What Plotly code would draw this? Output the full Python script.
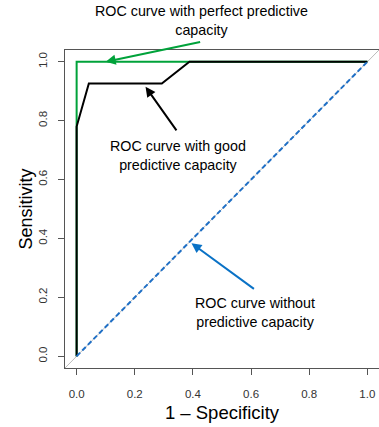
import plotly.graph_objects as go

# ROC curves
perfect_fpr = [0.0, 0.0, 1.0]
perfect_tpr = [0.0, 1.0, 1.0]
good_fpr = [0.0, 0.0, 0.042, 0.293, 0.388, 1.0]
good_tpr = [0.0, 0.78, 0.926, 0.926, 1.0, 1.0]
random_fpr = [0.0, 1.0]
random_tpr = [0.0, 1.0]
ref_line = [-0.04, 1.04]

tick_vals = [0.0, 0.2, 0.4, 0.6, 0.8, 1.0]
tick_text = ["0.0", "0.2", "0.4", "0.6", "0.8", "1.0"]

GREEN = "#00A23A"
BLUE = "#1F6FC5"
BLUE_ARROW = "#0A72C6"
AX = "#555555"
FONT = "Liberation Sans, Arial, sans-serif"

fig = go.Figure()
fig.add_trace(go.Scatter(x=ref_line, y=ref_line, mode="lines",
                         line=dict(color="#BBBBBB", width=1), hoverinfo="skip"))
fig.add_trace(go.Scatter(x=perfect_fpr, y=perfect_tpr, mode="lines",
                         line=dict(color=GREEN, width=2)))
fig.add_trace(go.Scatter(x=good_fpr, y=good_tpr, mode="lines",
                         line=dict(color="black", width=2)))
fig.add_trace(go.Scatter(x=random_fpr, y=random_tpr, mode="lines",
                         line=dict(color=BLUE, width=2, dash="5px,3px")))

def arrow(x, y, ax, ay, color):
    fig.add_annotation(x=x, y=y, ax=ax, ay=ay, xref="x", yref="y", axref="x", ayref="y",
                       text="", showarrow=True, arrowhead=2, arrowsize=1,
                       arrowwidth=2, arrowcolor=color)

def label(x, y, text, ref="x"):
    fig.add_annotation(x=x, y=y, xref="x", yref="y" if ref == "x" else "paper",
                       text=text, showarrow=False,
                       font=dict(family=FONT, size=14.3, color="black"),
                       align="center", xanchor="center", yanchor="middle")

arrow(0.10, 1.0, 0.43, 1.068, GREEN)
# top label sits above the plotting area -> paper y (plot area spans 368..50 px)
label(0.43, (368 - 20.5) / 318, "ROC curve with perfect predictive<br>capacity", ref="paper")
arrow(0.237, 0.915, 0.347, 0.762, "black")
label(0.348, 0.682, "ROC curve with good<br>predictive capacity")
arrow(0.395, 0.384, 0.615, 0.225, BLUE_ARROW)
label(0.615, 0.147, "ROC curve without<br>predictive capacity")

axis_common = dict(range=[-0.04, 1.04], tickvals=tick_vals, ticktext=tick_text,
                   showgrid=False, zeroline=False, showline=True, mirror=True,
                   linecolor=AX, linewidth=1, ticks="outside", ticklen=6,
                   tickcolor=AX, automargin=False,
                   tickfont=dict(family=FONT, size=11.5, color="#333333"))

fig.update_layout(
    width=379, height=427,
    margin=dict(l=65, r=0, t=50, b=59),
    plot_bgcolor="white", paper_bgcolor="white",
    showlegend=False,
    font=dict(family=FONT),
    xaxis=dict(**axis_common, ticklabelstandoff=9,
               title=dict(text="1 \u2013 Specificity", font=dict(family=FONT, size=18.5, color="black"),
                          standoff=7)),
    yaxis=dict(**axis_common, tickangle=-90, ticklabelstandoff=6,
               title=dict(text="Sensitivity", font=dict(family=FONT, size=18, color="black"),
                          standoff=0)),
)

fig.write_html("out.html", config={"displayModeBar": False},
               post_script="document.body.style.margin='0';document.body.style.overflow='hidden';")
